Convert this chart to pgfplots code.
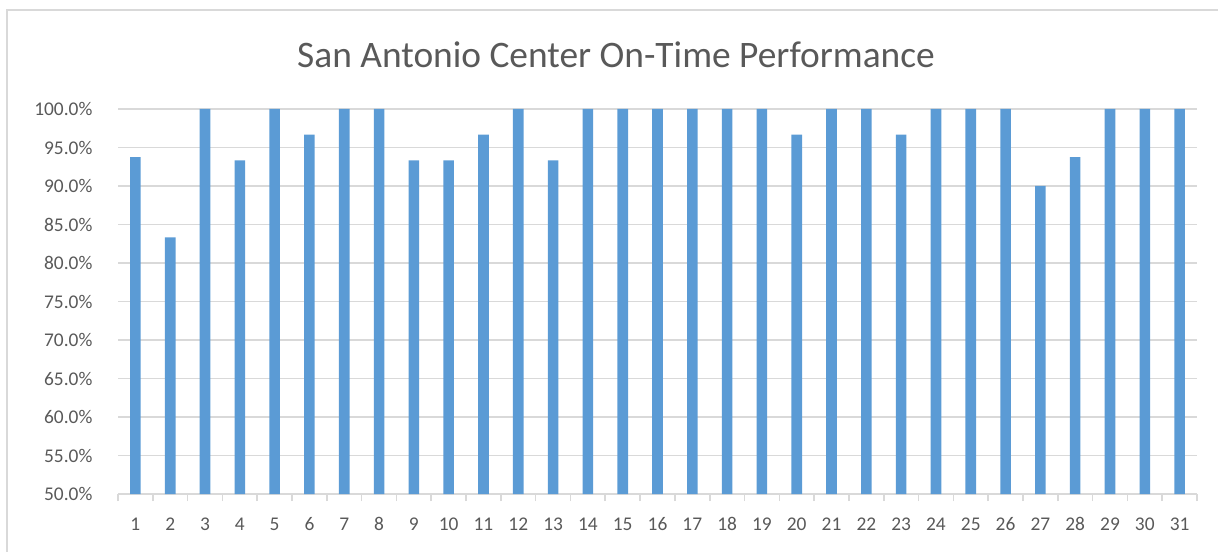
\documentclass[border=0pt]{standalone}
\usepackage{pgfplots}
\pgfplotsset{compat=1.18}
\usepackage{fontspec}
\setmainfont{Carlito}
\definecolor{barblue}{HTML}{5B9BD5}
\definecolor{txtgray}{HTML}{595959}
\definecolor{gridgray}{HTML}{D9D9D9}
\begin{document}
\begin{tikzpicture}
\useasboundingbox (0pt,0pt) rectangle (609pt,275.5pt);
\draw[gridgray, line width=1pt] (3.5pt,-3pt) -- (3.5pt,270.5pt) -- (612pt,270.5pt);
\node[text=txtgray, font=\fontsize{18.7}{21}\selectfont] at (308pt,248pt) {San Antonio Center On-Time Performance};
\begin{axis}[
  at={(59pt,28.5pt)}, anchor=origin,
  scale only axis, width=539.5pt, height=192.5pt,
  xmin=0.5, xmax=31.5, ymin=50, ymax=100,
  ybar, bar width=5.3pt,
  axis x line*=bottom, axis y line*=left,
  x axis line style={gridgray, line width=0.8pt, -},
  y axis line style={draw=none},
  xtick={1,...,31},
  minor xtick={0.5,1.5,...,31.5},
  major x tick style={draw=none},
  major y tick style={draw=none},
  minor x tick style={gridgray, line width=0.8pt},
  tick align=outside, minor tick length=3.5pt,
  ytick={50,55,...,100},
  ymajorgrids, grid style={gridgray, line width=0.8pt},
  yticklabel={\pgfmathprintnumber[fixed,fixed zerofill,precision=1]{\tick}\%},
  ticklabel style={text=txtgray, font=\fontsize{9.7}{11}\selectfont},
  yticklabel style={xshift=-5pt},
  xticklabel style={yshift=-4pt},
  /pgf/number format/assume math mode=true,
]
\addplot[fill=barblue, draw=none] coordinates {
(1,93.75) (2,83.33) (3,100) (4,93.33) (5,100) (6,96.67) (7,100) (8,100)
(9,93.33) (10,93.33) (11,96.67) (12,100) (13,93.33) (14,100) (15,100) (16,100)
(17,100) (18,100) (19,100) (20,96.67) (21,100) (22,100) (23,96.67) (24,100)
(25,100) (26,100) (27,90) (28,93.75) (29,100) (30,100) (31,100)};
\end{axis}
\end{tikzpicture}
\end{document}
